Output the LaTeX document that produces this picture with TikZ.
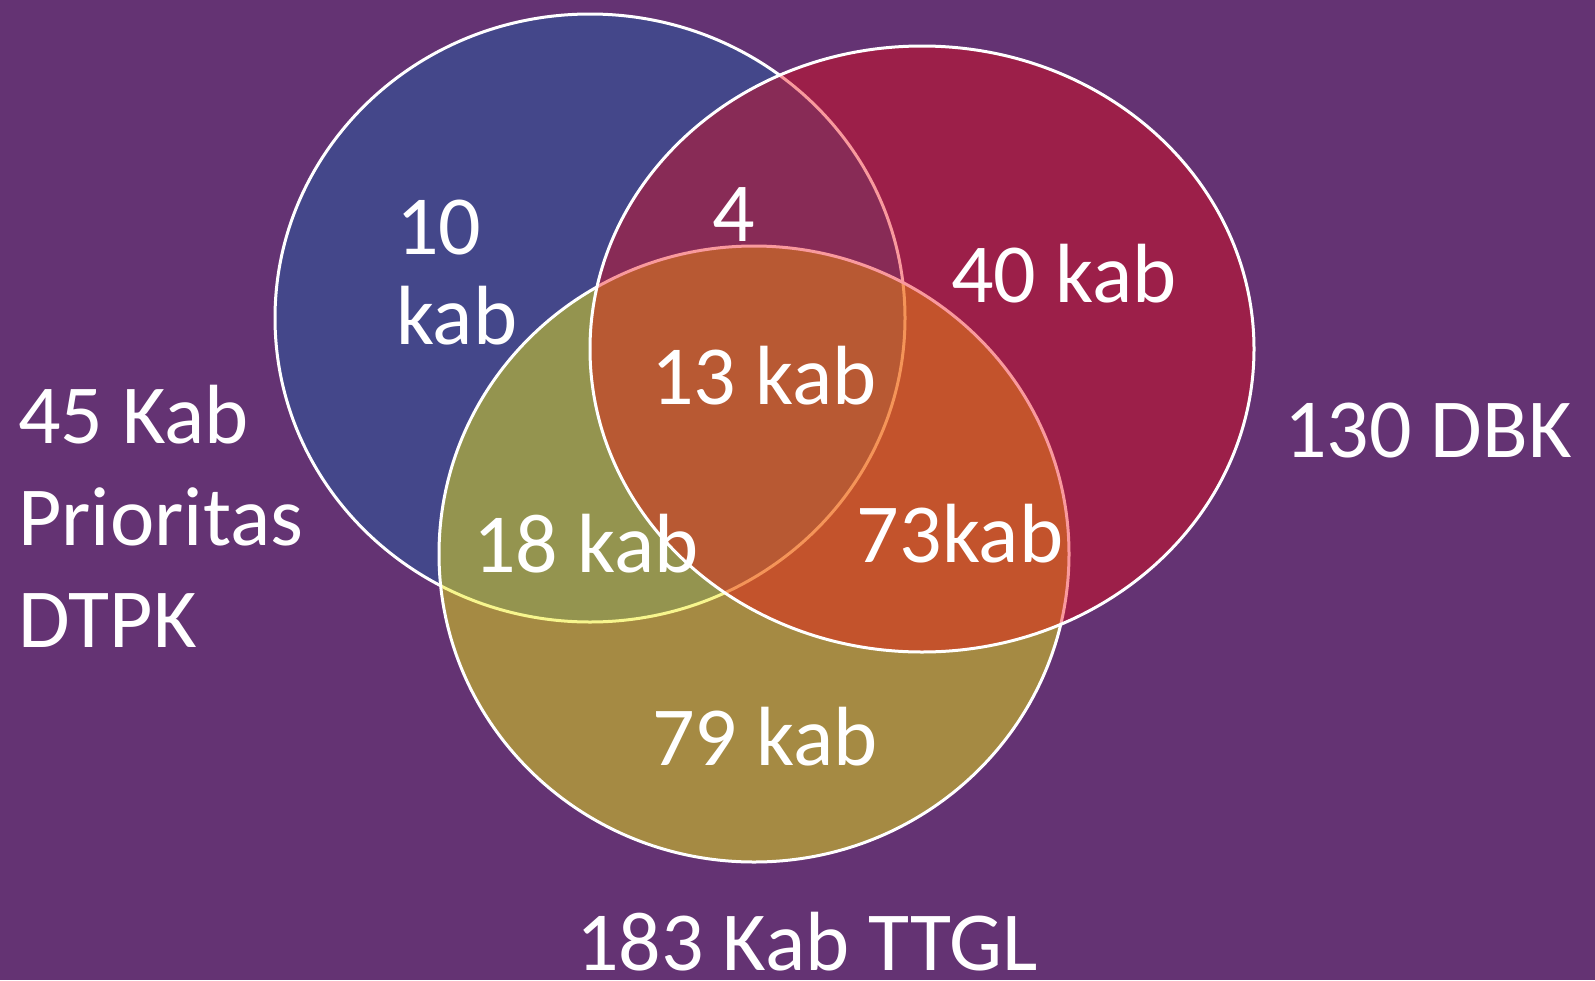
\documentclass[tikz,border=0pt]{standalone}
\usepackage{fontspec}
\setmainfont{Carlito}
\definecolor{bgpurple}{RGB}{100,51,115}
\definecolor{setblue}{RGB}{38,91,161}
\definecolor{setyellow}{RGB}{240,236,13}
\definecolor{setred}{RGB}{240,1,10}

\begin{document}
\begin{tikzpicture}[x=1pt,y=-1pt,
  venn/.style={draw=white,line width=3pt},
  lbl/.style={text=white,inner sep=0pt,font=\fontsize{84}{90}\selectfont}]

% Background
\fill[bgpurple] (0,0) rectangle (1595,980);

% The three sets: blue first, then yellow, red on top
\filldraw[venn,fill=setblue,fill opacity=0.5] (590,318) ellipse [x radius=315,y radius=304];
\filldraw[venn,fill=setyellow,fill opacity=0.47] (754,554) ellipse [x radius=315,y radius=308];
\filldraw[venn,fill=setred,fill opacity=0.4] (922,349) ellipse [x radius=332,y radius=303];

% Counts in each region (base = last line)
\node[lbl,anchor=base west,align=left] (blueonly) at (396,344) {10\\kab};
\node[lbl,anchor=base] (bluered) at (734,241) {4};
\node[lbl,anchor=base] (redonly) at (1064,302) {40 kab};
\node[lbl,anchor=base] (allthree) at (764,404) {13 kab};
\node[lbl,anchor=base] (blueyellow) at (586,572) {18 kab};
\node[lbl,anchor=base] (redyellow) at (960,562) {73kab};
\node[lbl,anchor=base] (yellowonly) at (765,765) {79 kab};

% Set names
\node[lbl,anchor=base west,align=left,font=\fontsize{84}{102}\selectfont] (dtpk) at (18,647) {45 Kab\\Prioritas\\DTPK};
\node[lbl,anchor=base west] (dbk) at (1284,457) {130 DBK};
\node[lbl,anchor=base west,text depth=0pt] (ttgl) at (576,970) {183 Kab TTGL};

\end{tikzpicture}
\end{document}
